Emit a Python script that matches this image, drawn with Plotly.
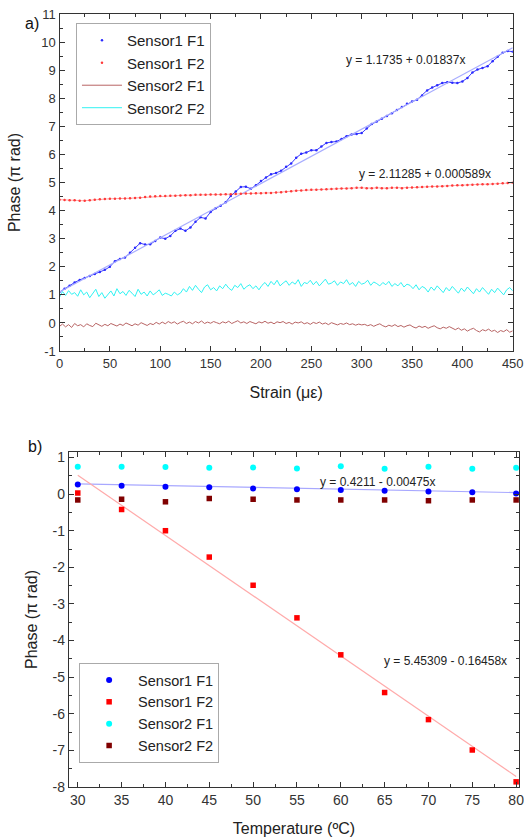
import plotly.graph_objects as go

# ---------------- Panel a) data ----------------
strain = list(range(0, 451, 5))
strain_fine = list(range(0, 451, 3))

s1_f1 = [1.10, 1.22, 1.32, 1.44, 1.53, 1.60, 1.67, 1.74, 1.81, 1.89,
         2.00, 2.20, 2.28, 2.33, 2.50, 2.68, 2.84, 2.79, 2.80, 2.92,
         3.04, 3.00, 3.10, 3.28, 3.36, 3.28, 3.40, 3.60, 3.76, 3.72,
         3.95, 4.08, 4.17, 4.30, 4.52, 4.68, 4.84, 4.85, 4.78, 4.90,
         5.05, 5.18, 5.29, 5.34, 5.42, 5.56, 5.68, 5.88, 6.02, 6.07,
         6.15, 6.15, 6.28, 6.41, 6.44, 6.46, 6.55, 6.65, 6.71, 6.73,
         6.76, 6.92, 7.08, 7.17, 7.27, 7.37, 7.47, 7.58, 7.69, 7.80,
         7.88, 7.95, 8.10, 8.28, 8.38, 8.46, 8.54, 8.57, 8.55, 8.54,
         8.60, 8.72, 8.92, 9.02, 9.08, 9.14, 9.32, 9.48, 9.62, 9.68, 9.66]

s1_f2 = [4.39, 4.38, 4.37, 4.37, 4.35, 4.35, 4.37, 4.39, 4.40, 4.41,
         4.42, 4.42, 4.43, 4.43, 4.44, 4.45, 4.46, 4.48, 4.50, 4.51,
         4.52, 4.52, 4.53, 4.53, 4.54, 4.55, 4.55, 4.56, 4.56, 4.56,
         4.57, 4.57, 4.57, 4.58, 4.58, 4.59, 4.60, 4.61, 4.61, 4.62,
         4.62, 4.63, 4.63, 4.64, 4.65, 4.67, 4.69, 4.71, 4.72, 4.73,
         4.74, 4.74, 4.75, 4.76, 4.77, 4.78, 4.79, 4.79, 4.80, 4.81,
         4.81, 4.80, 4.80, 4.81, 4.80, 4.80, 4.81, 4.81, 4.80, 4.81,
         4.82, 4.83, 4.84, 4.85, 4.86, 4.86, 4.87, 4.88, 4.89, 4.90,
         4.90, 4.91, 4.92, 4.93, 4.94, 4.94, 4.95, 4.96, 4.97, 4.98, 4.99]

s2_f1 = [-0.12, -0.04, -0.14, -0.06, -0.16, -0.02, -0.10, -0.06, -0.14, -0.03,
         -0.09, -0.13, -0.01, -0.08, -0.12, -0.05, -0.10, -0.02, -0.07, -0.11,
         -0.04, -0.09, 0.00, -0.06, -0.10, -0.03, -0.08, 0.01, -0.05, -0.09,
         -0.02, -0.06, 0.02, -0.04,
         0.03, -0.03, 0.05, -0.01, 0.04, -0.04, 0.02, 0.06, -0.02, 0.03,
         -0.03, 0.05, 0.00, 0.07, -0.02, 0.03, -0.01, 0.05, 0.01, -0.03,
         0.04, 0.00, 0.06, -0.02, 0.03, 0.08, 0.00, 0.04, -0.02, 0.05,
         0.01, -0.03, 0.04, 0.00, 0.06, -0.01, 0.03, -0.03, 0.04, 0.01,
         0.05, -0.02, 0.02, -0.04, 0.03, 0.00, 0.04, -0.03, 0.01, -0.05,
         0.02, -0.02, 0.03, -0.04, 0.00, -0.06, 0.01, -0.03, -0.07, -0.02,
         -0.05, 0.00, -0.06, -0.03, -0.08, -0.04, -0.07,
         -0.05, -0.10, -0.06, -0.12, -0.07, -0.03, -0.10, -0.14, -0.08, -0.12,
         -0.06, -0.13, -0.09, -0.15, -0.10, -0.07, -0.14, -0.18, -0.11, -0.16,
         -0.12, -0.19, -0.14, -0.10, -0.17, -0.21, -0.15, -0.19, -0.13, -0.20,
         -0.24, -0.18, -0.26, -0.21, -0.29, -0.23, -0.19, -0.27, -0.32, -0.24,
         -0.28, -0.22, -0.30, -0.26, -0.34, -0.27, -0.31, -0.24, -0.33, -0.28]

s2_f2 = [0.92, 1.12, 0.98, 1.15, 1.02, 1.08, 0.95, 1.18, 1.00, 1.10,
         0.90, 1.05, 1.20, 0.94, 1.08, 0.88, 1.02, 1.14, 0.96, 1.22,
         1.04, 1.12, 0.98, 1.16, 1.06, 0.94, 1.20, 1.02, 1.10, 0.96,
         1.14, 1.00, 1.08, 1.18, 0.98, 1.06, 1.02, 0.96, 1.10, 1.00,
         1.06,
         1.22, 1.10, 1.30, 1.16, 1.34, 1.20, 1.08, 1.28, 1.36, 1.18,
         1.26, 1.14, 1.32, 1.22, 1.38, 1.24, 1.16, 1.34, 1.26, 1.40,
         1.20, 1.30, 1.36, 1.22, 1.32, 1.18,
         1.34, 1.44, 1.30, 1.48, 1.36, 1.52, 1.32, 1.42, 1.50, 1.34,
         1.46, 1.38, 1.54, 1.30, 1.44, 1.40, 1.52, 1.36, 1.48, 1.32,
         1.46, 1.56, 1.38, 1.42, 1.50, 1.34, 1.46, 1.40, 1.54, 1.36,
         1.44, 1.30, 1.48, 1.38, 1.42, 1.52, 1.34, 1.46, 1.40, 1.32,
         1.44, 1.36, 1.48, 1.30,
         1.40, 1.32, 1.44, 1.28, 1.38, 1.34, 1.22, 1.36, 1.18, 1.30,
         1.24, 1.10, 1.28, 1.16, 1.32, 1.20, 1.08, 1.26, 1.14, 1.30,
         1.18, 1.06, 1.24, 1.12, 1.28, 1.16, 1.04, 1.22, 1.10, 1.26,
         1.14, 1.02, 1.20, 1.08, 1.24, 1.12, 1.00, 1.18, 1.26, 1.14]

fit_a_x = [0, 450]
fit_a_y = [1.10, 9.80]

a_xticks = [0, 50, 100, 150, 200, 250, 300, 350, 400, 450]
a_yticks = [-1, 0, 1, 2, 3, 4, 5, 6, 7, 8, 9, 10, 11]
a_ylabels = ["-1", "0", "1", "2", "3", "4", "5", "6", "7", "8", "9", "10", "11"]

# ---------------- Panel b) data ----------------
temp = [30, 35, 40, 45, 50, 55, 60, 65, 70, 75, 80]
b_s1_f1 = [0.26, 0.23, 0.20, 0.19, 0.155, 0.13, 0.11, 0.09, 0.07, 0.05, 0.02]
b_s1_f2 = [0.03, -0.42, -1.00, -1.72, -2.49, -3.38, -4.39, -5.42, -6.16, -6.99, -7.86]
b_s2_f1 = [0.75, 0.75, 0.74, 0.72, 0.73, 0.70, 0.76, 0.69, 0.75, 0.69, 0.72]
b_s2_f2 = [-0.16, -0.14, -0.21, -0.12, -0.14, -0.16, -0.16, -0.16, -0.18, -0.16, -0.16]

fit_b1 = (0.4211, -0.00475)
fit_b2 = (5.45309, -0.16458)
fit_b_x = [30, 80]

b_xticks = [30, 35, 40, 45, 50, 55, 60, 65, 70, 75, 80]
b_yticks = [-8, -7, -6, -5, -4, -3, -2, -1, 0, 1]
b_ylabels = ["-8", "-7", "-6", "-5", "-4", "-3", "-2", "-1", "0", "1"]

FONT = "Liberation Sans, Arial, sans-serif"
AX = "#333333"

fig = go.Figure()

# Panel a traces
fig.add_trace(go.Scatter(x=strain, y=s1_f1, mode="lines", line=dict(color="#3a3aff", width=1),
                         showlegend=False, hoverinfo="skip", xaxis="x", yaxis="y"))
fig.add_trace(go.Scatter(x=strain, y=s1_f1, mode="markers", name="Sensor1 F1",
                         marker=dict(color="#2a2aff", size=2.5), xaxis="x", yaxis="y"))
fig.add_trace(go.Scatter(x=fit_a_x, y=fit_a_y, mode="lines", line=dict(color="#a8adff", width=1.2),
                         showlegend=False, xaxis="x", yaxis="y"))
fig.add_trace(go.Scatter(x=strain, y=s1_f2, mode="lines", line=dict(color="rgba(255,80,80,0.5)", width=1),
                         showlegend=False, hoverinfo="skip", xaxis="x", yaxis="y"))
fig.add_trace(go.Scatter(x=strain, y=s1_f2, mode="markers", name="Sensor1 F2",
                         marker=dict(color="#ff3a3a", size=2.5), xaxis="x", yaxis="y"))
fig.add_trace(go.Scatter(x=strain_fine, y=s2_f1, mode="lines", name="Sensor2 F1",
                         line=dict(color="#b86464", width=1), xaxis="x", yaxis="y"))
fig.add_trace(go.Scatter(x=strain_fine, y=s2_f2, mode="lines", name="Sensor2 F2",
                         line=dict(color="#30f2f2", width=1), xaxis="x", yaxis="y"))

# Panel b traces
fig.add_trace(go.Scatter(x=fit_b_x, y=[fit_b1[0] + fit_b1[1] * t for t in fit_b_x], mode="lines",
                         line=dict(color="#a8a8ff", width=1.2), showlegend=False,
                         xaxis="x2", yaxis="y2"))
fig.add_trace(go.Scatter(x=fit_b_x, y=[fit_b2[0] + fit_b2[1] * t for t in fit_b_x], mode="lines",
                         line=dict(color="#ffaaaa", width=1.2), showlegend=False,
                         xaxis="x2", yaxis="y2"))
fig.add_trace(go.Scatter(x=temp, y=b_s1_f1, mode="markers", name="Sensor1 F1", legend="legend2",
                         marker=dict(color="#0000ff", size=6, symbol="circle"), xaxis="x2", yaxis="y2"))
fig.add_trace(go.Scatter(x=temp, y=b_s1_f2, mode="markers", name="Sensor1 F2", legend="legend2",
                         marker=dict(color="#ff0000", size=5.5, symbol="square"), xaxis="x2", yaxis="y2"))
fig.add_trace(go.Scatter(x=temp, y=b_s2_f1, mode="markers", name="Sensor2 F1", legend="legend2",
                         marker=dict(color="#00ffff", size=6, symbol="circle"), xaxis="x2", yaxis="y2"))
fig.add_trace(go.Scatter(x=temp, y=b_s2_f2, mode="markers", name="Sensor2 F2", legend="legend2",
                         marker=dict(color="#800000", size=5.5, symbol="square"), xaxis="x2", yaxis="y2"))

def axis_style(**kw):
    d = dict(showline=True, linecolor=AX, linewidth=1.3, mirror="ticks",
             ticks="inside", ticklen=5, tickwidth=1.2, tickcolor=AX,
             showgrid=False, zeroline=False, automargin=False,
             ticklabeloverflow="allow",
             tickfont=dict(family=FONT, size=13, color="#333"))
    d.update(kw)
    return d

fig.update_layout(
    width=524, height=838,
    margin=dict(l=0, r=0, t=0, b=0, autoexpand=False),
    paper_bgcolor="white", plot_bgcolor="white",
    font=dict(family=FONT, color="#222"),
    xaxis=axis_style(domain=[0.1136, 0.9785], range=[0, 450], anchor="y",
                     tickmode="array", tickvals=a_xticks,
                     minor=dict(tick0=0, dtick=25, ticks="inside", ticklen=3, tickcolor=AX, tickwidth=1),
                     title=dict(text="Strain (με)", font=dict(family=FONT, size=16, color="#222"), standoff=17)),
    yaxis=axis_style(domain=[0.5811, 0.9833], range=[-1, 11], anchor="x",
                     tickmode="array", tickvals=a_yticks, ticktext=a_ylabels,
                     minor=dict(tick0=0, dtick=0.5, ticks="inside", ticklen=3, tickcolor=AX, tickwidth=1),
                     title=dict(text="Phase (π rad)", font=dict(family=FONT, size=16, color="#222"), standoff=16)),
    xaxis2=axis_style(domain=[0.1317, 0.9905], range=[29, 80.33], anchor="y2",
                      tickmode="array", tickvals=b_xticks,
                      tickfont=dict(family=FONT, size=14, color="#333"),
                      minor=dict(tick0=0, dtick=2.5, ticks="inside", ticklen=3, tickcolor=AX, tickwidth=1),
                      title=dict(text="Temperature (ºC)", font=dict(family=FONT, size=16, color="#222"), standoff=15)),
    yaxis2=axis_style(domain=[0.0609, 0.4606], range=[-8, 1.15], anchor="x2",
                      tickmode="array", tickvals=b_yticks, ticktext=b_ylabels,
                      tickfont=dict(family=FONT, size=14, color="#333"),
                      minor=dict(tick0=0, dtick=0.5, ticks="inside", ticklen=3, tickcolor=AX, tickwidth=1),
                      title=dict(text="Phase (π rad)", font=dict(family=FONT, size=16, color="#222"), standoff=11)),
    legend=dict(x=0.145, y=0.9726, xanchor="left", yanchor="top",
                bgcolor="white", bordercolor="#aaaaaa", borderwidth=1,
                font=dict(family=FONT, size=15, color="#222"), tracegroupgap=0, itemwidth=40),
    legend2=dict(x=0.151, y=0.2088, xanchor="left", yanchor="top",
                 bgcolor="white", bordercolor="#aaaaaa", borderwidth=1,
                 font=dict(family=FONT, size=14.5, color="#222"), tracegroupgap=0, itemwidth=48),
    annotations=[
        dict(text="y = 1.1735 + 0.01837x", x=343.8, y=9.36, xref="x", yref="y", showarrow=False,
             font=dict(family=FONT, size=12, color="#222")),
        dict(text="y = 2.11285 + 0.000589x", x=362.6, y=5.32, xref="x", yref="y", showarrow=False,
             font=dict(family=FONT, size=12, color="#222")),
        dict(text="y = 0.4211 - 0.00475x", x=64.2, y=0.33, xref="x2", yref="y2", showarrow=False,
             font=dict(family=FONT, size=12, color="#222")),
        dict(text="y = 5.45309 - 0.16458x", x=71.9, y=-4.56, xref="x2", yref="y2", showarrow=False,
             font=dict(family=FONT, size=12, color="#222")),
        dict(text="a)", x=0.044, y=0.985, xref="paper", yref="paper", showarrow=False,
             font=dict(family=FONT, size=16, color="#111")),
        dict(text="b)", x=0.050, y=0.4666, xref="paper", yref="paper", showarrow=False,
             font=dict(family=FONT, size=16, color="#111")),
    ],
)

fig.write_html("out.html", config={"displayModeBar": False},
               post_script="document.body.style.margin='0px';document.body.style.overflow='hidden';")
